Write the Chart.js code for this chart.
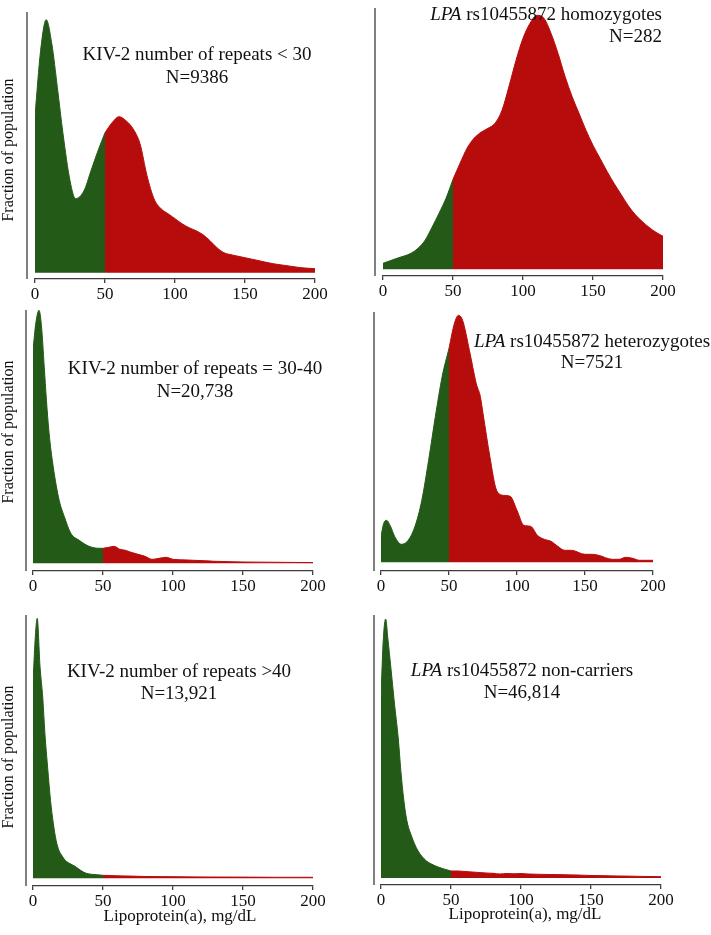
<!DOCTYPE html>
<html>
<head>
<meta charset="utf-8">
<script src="https://cdn.jsdelivr.net/npm/chart.js@4.4.1/dist/chart.umd.min.js"></script>
<style>
  html, body { margin: 0; padding: 0; background: #fff; }
  #wrap { position: relative; width: 711px; height: 935px; overflow: hidden; }
  #wrap canvas { position: absolute; }
</style>
</head>
<body>
<div id="wrap"></div>
<script>
// Lp(a) in mg/dL and relative density (arbitrary units)
const ticksX = [0, 50, 100, 150, 200];
const cutoff = 50;
const yTitle = 'Fraction of population';
const xTitle = 'Lipoprotein(a), mg/dL';

const lt30X = [0, 4, 8, 12, 16, 20, 25, 29, 35, 40, 45, 50, 55, 60, 65, 70, 75, 80, 85, 90, 95, 100, 105, 110, 115, 120, 125, 130, 135, 140, 150, 160, 170, 180, 190, 200];
const lt30Y = [157, 222, 253, 229, 185, 139, 92, 74, 82, 102, 122, 140, 150, 156, 152, 144, 129, 97, 74, 64, 59, 54, 49, 45, 42, 38, 32, 25, 20, 18, 15, 12, 9, 7, 5, 4];

const homoX = [0, 10, 20, 25, 30, 35, 40, 45, 50, 55, 60, 65, 70, 75, 80, 85, 90, 95, 100, 105, 110, 115, 120, 125, 130, 135, 140, 145, 150, 155, 160, 165, 170, 175, 180, 185, 190, 195, 200];
const homoY = [6, 11, 16, 21, 29, 42, 56, 71, 90, 106, 121, 131, 137, 141, 146, 159, 183, 209, 231, 246, 254, 251, 236, 216, 193, 173, 156, 139, 124, 111, 98, 86, 75, 64, 55, 48, 42, 37, 33];

const mid3040X = [0, 2, 4.3, 6, 8, 9.6, 11.5, 14.4, 18.7, 22.3, 27, 33, 40, 47.5, 50, 54, 58, 62, 66, 70, 75, 80, 85, 90, 95, 100, 110, 120, 130, 150, 175, 200];
const mid3040Y = [213, 240, 253, 238, 197, 163, 130, 97, 63, 47, 30, 23, 17, 15, 15, 16, 17, 14, 13, 11, 9, 7, 4, 5, 6, 4, 3.3, 2.7, 2, 1.3, 1, 0.7];

const heteroX = [0, 2, 4, 7, 10, 15, 20, 25, 30, 35, 40, 45, 50, 54, 57, 60, 65, 70, 73, 75, 80, 85, 90, 95, 100, 105, 110, 115, 120, 125, 130, 135, 140, 150, 155, 160, 170, 175, 180, 185, 190, 200];
const heteroY = [26, 39, 42, 36, 26, 18, 22, 36, 62, 102, 146, 186, 214, 239, 247, 242, 212, 179, 166, 149, 106, 72, 67, 66, 52, 37, 36, 27, 23, 21, 16, 12, 12, 8, 8, 7, 3, 3, 5, 4, 2, 2];

const gt40X = [0, 1.5, 3, 5, 7, 8.5, 10.5, 12.5, 14.5, 16.5, 18.5, 21, 23, 26, 30, 34, 38, 42, 46, 50, 60, 70, 80, 100, 125, 150, 175, 200];
const gt40Y = [195, 238, 260, 212, 180, 145, 110, 78, 55, 38, 28, 22, 18, 15, 12, 8, 5, 4, 3.5, 3, 2.5, 2.2, 1.8, 1.6, 1.3, 1.2, 1, 1];

const nonX = [0, 1.5, 3.3, 5, 7, 9.5, 12.3, 14.5, 17, 19, 21.8, 24, 26.5, 29, 32.5, 36, 40.8, 45, 50, 55, 60, 65, 70, 75, 80, 85, 90, 95, 100, 105, 110, 120, 130, 140, 150, 160, 170, 180, 190, 200];
const nonY = [181, 235, 259, 238, 211, 176, 140, 102, 70, 54, 42, 34, 27, 22, 17, 14, 11, 9, 7, 7, 6.5, 6, 5.5, 5, 4.7, 4, 4.5, 4.2, 4.5, 4, 3.8, 3.5, 3.3, 3, 2.5, 2.3, 2, 1.8, 1.5, 1.3];

const GREEN = '#245a17';
const RED = '#b70c0c';
const AXIS = '#3c3c3c';
const SERIF = '"Liberation Serif", "Times New Roman", serif';

// box = canvas left/top/width/height, area = plot left/top/right/bottom inside it
const panels = [
  { box: [0, 0, 355, 300], area: [35, 12, 315, 279], yRange: [-6.3, 260.7], gap: 8, x: lt30X, y: lt30Y,
    lines: [[['KIV-2 number of repeats < 30']], [['N=9386']]], tx: 197, ty: [55, 78], align: 'center', yLabel: [9, 150] },
  { box: [355, 0, 356, 300], area: [28, 8, 308, 276], yRange: [-6.7, 261.3], gap: 8, x: homoX, y: homoY,
    lines: [[['LPA', true], [' rs10455872 homozygotes']], [['N=282']]], tx: 307, ty: [15, 37], align: 'right' },
  { box: [0, 300, 355, 300], area: [33, 10, 313, 271], yRange: [-7.7, 253.3], gap: 7, x: mid3040X, y: mid3040Y,
    lines: [[['KIV-2 number of repeats = 30-40']], [['N=20,738']]], tx: 195, ty: [69, 92], align: 'center', yLabel: [9, 132] },
  { box: [355, 300, 356, 300], area: [26, 12, 298, 271], yRange: [-8.7, 250.3], gap: 7, x: heteroX, y: heteroY,
    lines: [[['LPA', true], [' rs10455872 heterozygotes']], [['N=7521']]], tx: 237, ty: [42, 63], align: 'center' },
  { box: [0, 600, 355, 335], area: [33, 15, 313, 286], yRange: [-7.7, 263.3], gap: 7, x: gt40X, y: gt40Y,
    lines: [[['KIV-2 number of repeats >40']], [['N=13,921']]], tx: 179, ty: [72, 94], align: 'center', yLabel: [9, 157], xLabel: [180, 317] },
  { box: [355, 600, 356, 335], area: [26, 15, 306, 285], yRange: [-7, 263], gap: 7, x: nonX, y: nonY,
    lines: [[['LPA', true], [' rs10455872 non-carriers']], [['N=46,814']]], tx: 167, ty: [71, 93], align: 'center', xLabel: [170, 315] }
];

// offset y axis line, in-plot labels and axis titles
const decor = {
  id: 'decor',
  afterDraw(chart, args, o) {
    const { ctx, chartArea: a } = chart;
    ctx.save();
    ctx.strokeStyle = AXIS;
    ctx.lineWidth = 1.3;
    ctx.beginPath();
    ctx.moveTo(a.left - o.gap, a.top);
    ctx.lineTo(a.left - o.gap, a.bottom);
    ctx.stroke();

    ctx.fillStyle = '#111';
    ctx.textBaseline = 'middle';
    ctx.textAlign = 'left';
    o.lines.forEach((line, i) => {
      const fonts = line.map(([t, it]) => (it ? 'italic ' : '') + '19px ' + SERIF);
      const widths = line.map(([t], j) => { ctx.font = fonts[j]; return ctx.measureText(t).width; });
      const total = widths.reduce((s, w) => s + w, 0);
      let x = o.align === 'right' ? o.tx - total : o.tx - total / 2;
      line.forEach(([t], j) => {
        ctx.font = fonts[j];
        ctx.fillText(t, x, o.ty[i]);
        x += widths[j];
      });
    });

    ctx.textAlign = 'center';
    if (o.yLabel) {
      ctx.save();
      ctx.translate(o.yLabel[0], o.yLabel[1]);
      ctx.rotate(-Math.PI / 2);
      ctx.font = '16px ' + SERIF;
      ctx.fillText(yTitle, 0, 0);
      ctx.restore();
    }
    if (o.xLabel) {
      ctx.font = '17px ' + SERIF;
      ctx.fillText(xTitle, o.xLabel[0], o.xLabel[1]);
    }
    ctx.restore();
  }
};

const wrap = document.getElementById('wrap');

panels.forEach(p => {
  const [bx, by, bw, bh] = p.box;
  const cv = document.createElement('canvas');
  cv.width = bw;
  cv.height = bh;
  cv.style.left = bx + 'px';
  cv.style.top = by + 'px';
  cv.style.width = bw + 'px';
  cv.style.height = bh + 'px';
  wrap.appendChild(cv);

  const pts = p.x.map((x, i) => ({ x, y: p.y[i] }));
  const part = (data, color) => ({
    data,
    backgroundColor: color,
    borderColor: color,
    borderWidth: 1,
    fill: 'origin',
    pointRadius: 0,
    cubicInterpolationMode: 'monotone'
  });

  new Chart(cv, {
    type: 'line',
    data: {
      datasets: [
        part(pts.filter(d => d.x <= cutoff), GREEN),
        part(pts.filter(d => d.x >= cutoff), RED)
      ]
    },
    options: {
      responsive: false,
      animation: false,
      devicePixelRatio: 1,
      layout: { padding: { left: p.area[0], top: p.area[1], right: bw - p.area[2], bottom: 0 } },
      plugins: {
        legend: { display: false },
        tooltip: { enabled: false },
        decor: { gap: p.gap, lines: p.lines, tx: p.tx, ty: p.ty, align: p.align, yLabel: p.yLabel, xLabel: p.xLabel }
      },
      scales: {
        x: {
          type: 'linear',
          min: 0,
          max: 200,
          afterBuildTicks: s => { s.ticks = ticksX.map(v => ({ value: v })); },
          ticks: { color: '#111', font: { family: SERIF, size: 17 }, padding: 1, maxRotation: 0, autoSkip: false },
          grid: { drawOnChartArea: false, drawTicks: true, tickLength: 4, color: AXIS, lineWidth: 1.3 },
          border: { display: true, color: AXIS, width: 1.3 },
          afterFit: s => { s.height = bh - p.area[3]; }
        },
        y: { display: false, min: p.yRange[0], max: p.yRange[1] }
      }
    },
    plugins: [decor]
  });
});
</script>
</body>
</html>
